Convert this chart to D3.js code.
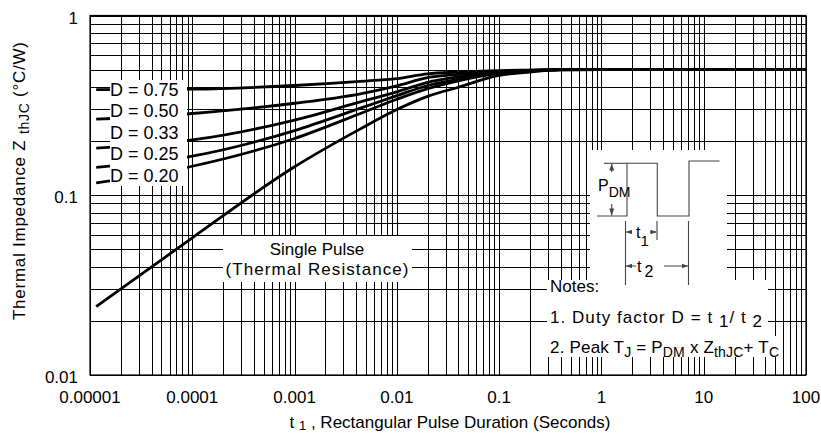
<html>
<head>
<meta charset="UTF-8">
<script src="https://cdn.jsdelivr.net/npm/d3@7"></script>
<style>
	body { margin: 0; background: #fff; }
	svg { font-family: "Liberation Sans", Arial, sans-serif; }
	.grid line { stroke: #000; stroke-width: 1; shape-rendering: crispEdges; }
	.grid path { display: none; }
	.curve { fill: none; stroke: #000; stroke-width: 2.8; }
	.pulse { fill: none; stroke: #444; stroke-width: 1.1; }
	.lbl { font-size: 17px; fill: #000; }
</style>
</head>
<body>
<div id="chart"></div>
<script>
// pulse durations (s) sampled off the chart
var pulseTimes = [1.15e-5, 1e-4, 1e-3, 4.4e-3, 1e-2, 0.02, 0.04, 0.1, 0.2, 0.4, 1, 10, 100];

// Z thJC (degC/W) per duty factor
var zD075 = [0.387, 0.389, 0.408, 0.430, 0.446, 0.474, 0.484, 0.494, 0.497, 0.500, 0.500, 0.500, 0.500];
var zD050 = [0.265, 0.285, 0.325, 0.367, 0.406, 0.451, 0.470, 0.489, 0.496, 0.500, 0.500, 0.500, 0.500];
var zD033 = [0.183, 0.203, 0.262, 0.331, 0.376, 0.425, 0.455, 0.484, 0.494, 0.500, 0.500, 0.500, 0.500];
var zD025 = [0.143, 0.165, 0.229, 0.305, 0.358, 0.408, 0.442, 0.480, 0.492, 0.500, 0.500, 0.500, 0.500];
var zD020 = [0.117, 0.145, 0.207, 0.285, 0.342, 0.392, 0.433, 0.476, 0.490, 0.499, 0.500, 0.500, 0.500];
var zSingle = [0.024, 0.058, 0.144, 0.234, 0.300, 0.355, 0.399, 0.464, 0.485, 0.498, 0.500, 0.500, 0.500];

var dutyLabels = ["D = 0.75", "D = 0.50", "D = 0.33", "D = 0.25", "D = 0.20"];

var xTicks = [1e-5, 1e-4, 1e-3, 1e-2, 0.1, 1, 10, 100];
var xTickLabels = ["0.00001", "0.0001", "0.001", "0.01", "0.1", "1", "10", "100"];
var yTicks = [0.01, 0.1, 1];
var yTickLabels = ["0.01", "0.1", "1"];

(function(d3) {
	var W = 821, H = 434;
	var left = 90, right = 806, top = 15.5, bottom = 375;

	var svg = d3.select("#chart").append("svg")
		.attr("width", W).attr("height", H);

	var x = d3.scaleLog().domain([1e-5, 100]).range([left, right]);
	var y = d3.scaleLog().domain([0.01, 1]).range([bottom, top]);

	// minor grid values: 1..9 of each decade
	var gridX = [];
	for (var e = -5; e < 2; e++)
		for (var k = 1; k <= 10; k++) gridX.push(k * Math.pow(10, e));
	var gridY = [];
	for (var e = -2; e < 0; e++)
		for (var k = 1; k <= 10; k++) gridY.push(k * Math.pow(10, e));

	svg.append("g").attr("class", "grid")
		.attr("transform", "translate(0," + bottom + ")")
		.call(d3.axisBottom(x).tickValues(gridX).tickSize(-(bottom - top)).tickFormat(""));
	svg.append("g").attr("class", "grid")
		.attr("transform", "translate(" + left + ",0)")
		.call(d3.axisLeft(y).tickValues(gridY).tickSize(-(right - left)).tickFormat(""));

	svg.append("rect")
		.attr("x", left).attr("y", top)
		.attr("width", right - left).attr("height", bottom - top)
		.attr("fill", "none").attr("stroke", "#000").attr("stroke-width", 1.2);

	// curves
	var line = d3.line()
		.x(function(d) { return x(d[0]); })
		.y(function(d) { return y(d[1]); })
		.curve(d3.curveMonotoneX);

	var series = [zD075, zD050, zD033, zD025, zD020, zSingle];
	svg.selectAll("path.curve")
		.data(series).enter()
		.append("path")
		.attr("class", "curve")
		.attr("d", function(vals) {
			return line(vals.map(function(v, i) { return [pulseTimes[i], v]; }));
		});

	// duty factor labels
	svg.append("rect").attr("x", 110).attr("y", 80).attr("width", 77).attr("height", 106).attr("fill", "#fff");
	svg.selectAll("text.duty")
		.data(dutyLabels).enter()
		.append("text")
		.attr("class", "lbl duty")
		.attr("x", 110)
		.attr("y", function(d, i) { return 95.5 + i * 21.5; })
		.style("font-size", "18px")
		.text(function(d) { return d; });

	// single pulse label
	svg.append("rect").attr("x", 223).attr("y", 236).attr("width", 189).attr("height", 46).attr("fill", "#fff");
	svg.append("text").attr("class", "lbl").attr("x", 317).attr("y", 255)
		.attr("text-anchor", "middle").text("Single Pulse");
	svg.append("text").attr("class", "lbl").attr("x", 317).attr("y", 275)
		.attr("text-anchor", "middle").attr("textLength", 183).text("(Thermal Resistance)");

	// inset: pulse train diagram + notes
	svg.append("rect").attr("x", 590).attr("y", 150).attr("width", 137).attr("height", 134).attr("fill", "#fff");
	svg.append("rect").attr("x", 547).attr("y", 280).attr("width", 221).attr("height", 77).attr("fill", "#fff");
	svg.append("rect").attr("x", 547).attr("y", 336).attr("width", 236).attr("height", 21).attr("fill", "#fff");

	var g = svg.append("g");
	g.append("path").attr("class", "pulse")
		.attr("d", "M597,216H627V163.3H657.3V216H689V161H719.5");
	g.append("path").attr("class", "pulse").attr("d", "M604,163.3H627");
	g.append("path").attr("class", "pulse").attr("d", "M611.7,172V163.8M611.7,204V215.5");
	g.append("path").attr("class", "pulse").attr("d", "M625.5,221V285M657,221V240M688.5,221V285");
	g.append("path").attr("class", "pulse").attr("d", "M626,232H632M650,232H656.5M626,266H636M664,266H688");
	g.append("path").attr("fill", "#444")
		.attr("d", "M611.7,163.5l-2.5,7h5zM611.7,215.5l-2.5,-7h5z" +
			"M626,232l6,-2.2v4.4zM656.5,232l-6,-2.2v4.4z" +
			"M626,266l6,-2.2v4.4zM688,266l-6,-2.2v4.4z");

	var pdm = g.append("text").attr("class", "lbl").attr("x", 598).attr("y", 190.5).style("font-size", "16px");
	pdm.append("tspan").text("P");
	pdm.append("tspan").attr("dy", 6).style("font-size", "14px").text("DM");
	var t1 = g.append("text").attr("class", "lbl").attr("x", 636).attr("y", 238).style("font-size", "16px");
	t1.append("tspan").text("t");
	t1.append("tspan").attr("dy", 8).style("font-size", "15px").text("1");
	var t2 = g.append("text").attr("class", "lbl").attr("x", 637).attr("y", 272).style("font-size", "16px");
	t2.append("tspan").text("t");
	t2.append("tspan").attr("dx", 3).attr("dy", 5).style("font-size", "16px").text("2");

	svg.append("text").attr("class", "lbl").attr("x", 550).attr("y", 291.5).text("Notes:");
	var n1 = svg.append("text").attr("class", "lbl").attr("x", 550).attr("y", 323)
		.attr("textLength", 212).attr("lengthAdjust", "spacing");
	n1.append("tspan").text("1. Duty factor D =  t ");
	n1.append("tspan").attr("dy", 4).text("1");
	n1.append("tspan").attr("dy", -4).text("/ t ");
	n1.append("tspan").attr("dy", 4).text("2");
	var n2 = svg.append("text").attr("class", "lbl").attr("x", 550).attr("y", 353)
		.attr("textLength", 229).attr("lengthAdjust", "spacing");
	n2.append("tspan").text("2. Peak T");
	n2.append("tspan").attr("dy", 4).style("font-size", "14px").text("J");
	n2.append("tspan").attr("dy", -4).text(" = P");
	n2.append("tspan").attr("dy", 4).style("font-size", "14px").text("DM");
	n2.append("tspan").attr("dy", -4).text(" x Z");
	n2.append("tspan").attr("dy", 4).style("font-size", "14px").text("thJC");
	n2.append("tspan").attr("dy", -4).text("+ T");
	n2.append("tspan").attr("dy", 4).style("font-size", "14px").text("C");

	// tick labels
	svg.selectAll("text.xt")
		.data(xTicks).enter()
		.append("text")
		.attr("class", "lbl xt")
		.attr("x", function(d) { return x(d); })
		.attr("y", 403)
		.attr("text-anchor", "middle")
		.text(function(d, i) { return xTickLabels[i]; });
	svg.selectAll("text.yt")
		.data(yTicks).enter()
		.append("text")
		.attr("class", "lbl yt")
		.attr("x", left - 12)
		.attr("y", function(d) { return y(d) + 8; })
		.attr("text-anchor", "end")
		.text(function(d, i) { return yTickLabels[i]; });

	// axis titles
	var xt = svg.append("text").attr("class", "lbl")
		.attr("x", (left + right) / 2 + 2).attr("y", 428)
		.attr("text-anchor", "middle");
	xt.append("tspan").text("t ");
	xt.append("tspan").attr("dy", 2).style("font-size", "13px").text("1");
	xt.append("tspan").attr("dy", -2).text(" , Rectangular Pulse Duration (Seconds)");

	var yt = svg.append("text").attr("class", "lbl")
		.attr("transform", "translate(25,181) rotate(-90)")
		.attr("text-anchor", "middle")
		.attr("textLength", 278).attr("lengthAdjust", "spacing");
	yt.append("tspan").text("Thermal Impedance Z ");
	yt.append("tspan").attr("dy", 4).style("font-size", "14px").text("thJC");
	yt.append("tspan").attr("dy", -4).text(" (°C/W)");
})(window.d3);
</script>
</body>
</html>
